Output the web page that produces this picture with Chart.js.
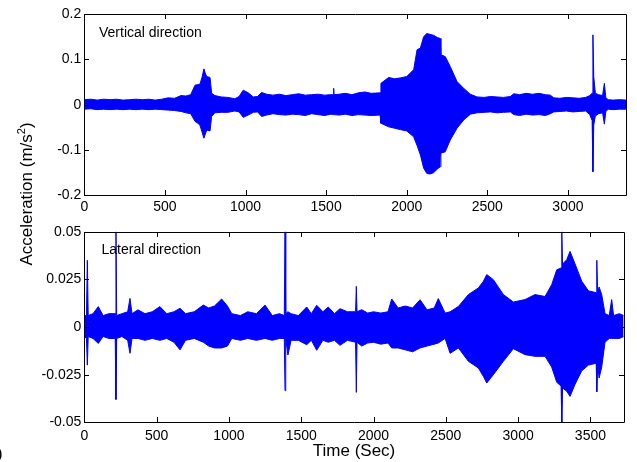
<!DOCTYPE html>
<html><head><meta charset="utf-8">
<script src="https://cdn.jsdelivr.net/npm/chart.js@4/dist/chart.umd.min.js"></script>
<style>html,body{margin:0;padding:0;background:#fff;overflow:hidden}
#wrap{position:relative;width:637px;height:462px}
canvas{position:absolute;left:0;top:0}</style>
</head><body><div id="wrap"><canvas id="c1" width="637" height="462"></canvas><canvas id="c2" width="637" height="462"></canvas></div>
<script>
// ---- Vertical direction (upper panel): envelope of the acceleration record ----
const vertTime  = [0,40,80,120,160,200,240,280,320,360,400,440,480,520,560,600,630,660,687,700,717,730,742,750,759,780,790,810,850,890,934,960,986,1017,1048,1075,1100,1131,1170,1210,1250,1290,1330,1370,1410,1450,1490,1530,1545,1547,1549,1580,1620,1660,1700,1740,1780,1835,1840,1888,1925,1960,2000,2043,2064,2085,2105,2125,2145,2167,2190,2208,2212,2239,2270,2312,2353,2395,2436,2480,2520,2560,2600,2643,2664,2700,2740,2780,2820,2860,2891,2912,2950,2990,3030,3070,3110,3135,3150,3155,3160,3170,3190,3215,3226,3235,3250,3280,3320,3362];
const vertUpper = [0.011,0.012,0.010,0.012,0.011,0.012,0.010,0.011,0.012,0.011,0.012,0.010,0.012,0.015,0.014,0.020,0.019,0.022,0.043,0.044,0.045,0.060,0.079,0.070,0.062,0.060,0.025,0.020,0.017,0.016,0.013,0.018,0.032,0.026,0.017,0.018,0.027,0.023,0.021,0.023,0.020,0.022,0.024,0.021,0.022,0.023,0.021,0.022,0.022,0.036,0.022,0.023,0.025,0.022,0.026,0.028,0.025,0.026,0.047,0.060,0.057,0.059,0.062,0.077,0.121,0.125,0.150,0.157,0.155,0.153,0.148,0.146,0.110,0.106,0.084,0.051,0.036,0.023,0.017,0.016,0.018,0.017,0.016,0.018,0.024,0.022,0.025,0.023,0.025,0.022,0.021,0.015,0.014,0.016,0.015,0.014,0.016,0.020,0.025,0.154,0.062,0.025,0.022,0.020,0.047,0.015,0.011,0.010,0.011,0.010];
const vertLower = [-0.010,-0.009,-0.011,-0.010,-0.011,-0.010,-0.011,-0.010,-0.011,-0.010,-0.011,-0.010,-0.011,-0.012,-0.013,-0.015,-0.018,-0.020,-0.037,-0.040,-0.045,-0.060,-0.074,-0.066,-0.056,-0.058,-0.026,-0.018,-0.017,-0.017,-0.014,-0.016,-0.028,-0.023,-0.017,-0.016,-0.026,-0.023,-0.020,-0.022,-0.023,-0.021,-0.022,-0.024,-0.020,-0.022,-0.024,-0.021,-0.022,-0.022,-0.022,-0.023,-0.021,-0.024,-0.022,-0.023,-0.024,-0.023,-0.041,-0.049,-0.052,-0.055,-0.058,-0.071,-0.090,-0.111,-0.140,-0.152,-0.153,-0.150,-0.142,-0.137,-0.107,-0.104,-0.078,-0.052,-0.034,-0.021,-0.018,-0.017,-0.016,-0.018,-0.017,-0.016,-0.022,-0.024,-0.021,-0.023,-0.022,-0.024,-0.020,-0.016,-0.015,-0.014,-0.016,-0.015,-0.014,-0.022,-0.035,-0.148,-0.045,-0.025,-0.020,-0.018,-0.043,-0.015,-0.010,-0.011,-0.010,-0.010];
const vertXMax = 3362;
const vertXTicks = [0,500,1000,1500,2000,2500,3000];
const vertYTicks = [-0.2,-0.1,0,0.1,0.2];
const vertYLabels = ['-0.2','-0.1','0','0.1','0.2'];

// ---- Lateral direction (lower panel) ----
const latTime  = [0,15,21,27,60,97,130,170,214,219,224,260,300,316,330,371,420,470,523,570,620,662,700,760,823,860,900,950,990,1020,1080,1130,1190,1250,1300,1350,1383,1388,1393,1408,1430,1480,1538,1570,1607,1650,1687,1730,1768,1820,1876,1881,1886,1918,1960,2000,2050,2100,2126,2170,2220,2270,2322,2370,2420,2448,2495,2530,2587,2656,2725,2760,2783,2829,2898,2967,3048,3117,3186,3232,3267,3297,3302,3307,3336,3359,3394,3440,3486,3540,3544,3550,3560,3578,3601,3630,3647,3660,3700,3730];
const latUpper = [0.006,0.006,0.035,0.006,0.007,0.0107,0.006,0.007,0.007,0.05,0.006,0.007,0.008,0.015,0.007,0.009,0.007,0.008,0.0107,0.007,0.008,0.0098,0.007,0.008,0.0115,0.010,0.011,0.0147,0.011,0.007,0.006,0.008,0.007,0.0115,0.006,0.007,0.006,0.05,0.007,0.008,0.007,0.006,0.0105,0.007,0.0114,0.008,0.0105,0.007,0.0096,0.008,0.008,0.0213,0.008,0.0091,0.0073,0.008,0.0073,0.008,0.0147,0.010,0.011,0.010,0.0143,0.009,0.010,0.0149,0.0073,0.008,0.0108,0.017,0.0205,0.024,0.0275,0.0248,0.017,0.0131,0.0144,0.017,0.016,0.0222,0.030,0.031,0.05,0.033,0.0353,0.0397,0.033,0.024,0.019,0.018,0.035,0.018,0.021,0.017,0.007,0.006,0.0144,0.006,0.007,0.006];
const latLower = [-0.005,-0.006,-0.020,-0.005,-0.006,-0.0086,-0.005,-0.006,-0.006,-0.038,-0.006,-0.005,-0.007,-0.0138,-0.006,-0.006,-0.007,-0.006,-0.007,-0.006,-0.008,-0.012,-0.007,-0.006,-0.008,-0.010,-0.011,-0.011,-0.010,-0.006,-0.007,-0.006,-0.007,-0.006,-0.007,-0.006,-0.006,-0.0334,-0.006,-0.0147,-0.007,-0.007,-0.0093,-0.007,-0.0122,-0.007,-0.008,-0.007,-0.0096,-0.007,-0.008,-0.0343,-0.008,-0.010,-0.0084,-0.008,-0.009,-0.0084,-0.011,-0.011,-0.012,-0.013,-0.011,-0.010,-0.009,-0.0084,-0.006,-0.0138,-0.011,-0.018,-0.0215,-0.026,-0.0294,-0.025,-0.018,-0.0114,-0.0145,-0.0154,-0.0154,-0.021,-0.029,-0.031,-0.05,-0.032,-0.0337,-0.0364,-0.030,-0.023,-0.020,-0.019,-0.034,-0.020,-0.0268,-0.021,-0.008,-0.006,-0.006,-0.006,-0.006,-0.005];
const latXMax = 3730;
const latXTicks = [0,500,1000,1500,2000,2500,3000,3500];
const latYTicks = [-0.05,-0.025,0,0.025,0.05];
const latYLabels = ['-0.05','-0.025','0','0.025','0.05'];

const FONT = '"Liberation Sans", Arial, Helvetica, sans-serif';
const BLUE = '#0000ff';
const W = 637, H = 462;

function boxPlugin(extra) {
  return {
    id: 'box',
    afterDraw(chart) {
      const ctx = chart.ctx;
      const ca = chart.chartArea;
      const L = Math.round(ca.left), R = Math.round(ca.right), T = Math.round(ca.top), B = Math.round(ca.bottom);
      ctx.save();
      ctx.strokeStyle = '#000';
      ctx.lineWidth = 1;
      ctx.beginPath();
      ctx.rect(L + 0.5, T + 0.5, R - L, B - T);
      const xs = chart.scales.x, ys = chart.scales.y;
      xs.ticks.forEach(t => {
        const p = Math.round(xs.getPixelForValue(t.value)) + 0.5;
        ctx.moveTo(p, B); ctx.lineTo(p, B - 5);
        ctx.moveTo(p, T); ctx.lineTo(p, T + 5);
      });
      ys.ticks.forEach(t => {
        const p = Math.round(ys.getPixelForValue(t.value)) + 0.5;
        ctx.moveTo(L, p); ctx.lineTo(L + 5, p);
        ctx.moveTo(R, p); ctx.lineTo(R - 5, p);
      });
      ctx.stroke();
      ctx.restore();
      if (extra) extra(ctx, chart);
    }
  };
}

function makeChart(id, d) {
  const pts = (arr) => d.time.map((t, i) => ({x: t, y: arr[i]}));
  return new Chart(document.getElementById(id), {
    type: 'line',
    data: {
      datasets: [
        {data: pts(d.upper), borderColor: BLUE, backgroundColor: BLUE, borderWidth: 1, pointRadius: 0, fill: '+1', tension: 0},
        {data: pts(d.lower), borderColor: BLUE, backgroundColor: BLUE, borderWidth: 1, pointRadius: 0, fill: false, tension: 0}
      ]
    },
    options: {
      responsive: false, animation: false, devicePixelRatio: 1,
      events: [],
      layout: {padding: {left: 0, right: W - d.area.right, top: d.area.top, bottom: H - d.area.bottom - 30}},
      plugins: {legend: {display: false}, tooltip: {enabled: false}},
      scales: {
        x: {
          type: 'linear', min: 0, max: d.xMax,
          grid: {display: false, drawTicks: false}, border: {display: false},
          afterFit: s => { s.height = 30; },
          afterBuildTicks: s => { s.ticks = d.xTicks.map(v => ({value: v})); },
          ticks: {autoSkip: false, maxRotation: 0, padding: d.xPad, color: '#000',
                  font: {family: FONT, size: 14}, callback: v => String(v)}
        },
        y: {
          type: 'linear', min: d.yTicks[0], max: d.yTicks[d.yTicks.length - 1],
          grid: {display: false, drawTicks: false}, border: {display: false},
          afterFit: s => { s.width = d.area.left; },
          afterBuildTicks: s => { s.ticks = d.yTicks.map(v => ({value: v})); },
          ticks: {padding: 3, color: '#000', font: {family: FONT, size: 14},
                  callback: (v, i) => d.yLabels[i]}
        }
      }
    },
    plugins: [boxPlugin(d.extra)]
  });
}

makeChart('c1', {
  time: vertTime, upper: vertUpper, lower: vertLower, xMax: vertXMax,
  xTicks: vertXTicks, yTicks: vertYTicks, yLabels: vertYLabels, xPad: 3,
  area: {left: 84.3, right: 626.3, top: 14, bottom: 195.3},
  extra: (ctx) => {
    ctx.save();
    ctx.fillStyle = '#000';
    ctx.font = '14px ' + FONT;
    ctx.textBaseline = 'alphabetic';
    ctx.textAlign = 'left';
    ctx.fillText('Vertical direction', 99, 37);
    // shared y-axis title
    ctx.translate(31.5, 194);
    ctx.rotate(-Math.PI / 2);
    const a = 'Acceleration (m/s', b = '2', c = ')';
    const f1 = '17px ' + FONT, f2 = '11px ' + FONT;
    ctx.font = f1; const wa = ctx.measureText(a).width, wc = ctx.measureText(c).width;
    ctx.font = f2; const wb = ctx.measureText(b).width;
    let x = -(wa + wb + wc) / 2;
    ctx.font = f1; ctx.fillText(a, x, 0); x += wa;
    ctx.font = f2; ctx.fillText(b, x, -7); x += wb;
    ctx.font = f1; ctx.fillText(c, x, 0);
    ctx.restore();
  }
});

makeChart('c2', {
  time: latTime, upper: latUpper, lower: latLower, xMax: latXMax,
  xTicks: latXTicks, yTicks: latYTicks, yLabels: latYLabels, xPad: 5,
  area: {left: 84.3, right: 623.7, top: 231.7, bottom: 422.3},
  extra: (ctx) => {
    ctx.save();
    ctx.fillStyle = '#000';
    ctx.font = '14px ' + FONT;
    ctx.textBaseline = 'alphabetic';
    ctx.textAlign = 'left';
    ctx.fillText('Lateral direction', 101.5, 253.5);
    ctx.font = '17px ' + FONT;
    ctx.textAlign = 'center';
    ctx.fillText('Time (Sec)', 354, 456);
    ctx.textAlign = 'left';
    ctx.fillText(')', -3, 459);
    ctx.restore();
  }
});
</script>
</body></html>
